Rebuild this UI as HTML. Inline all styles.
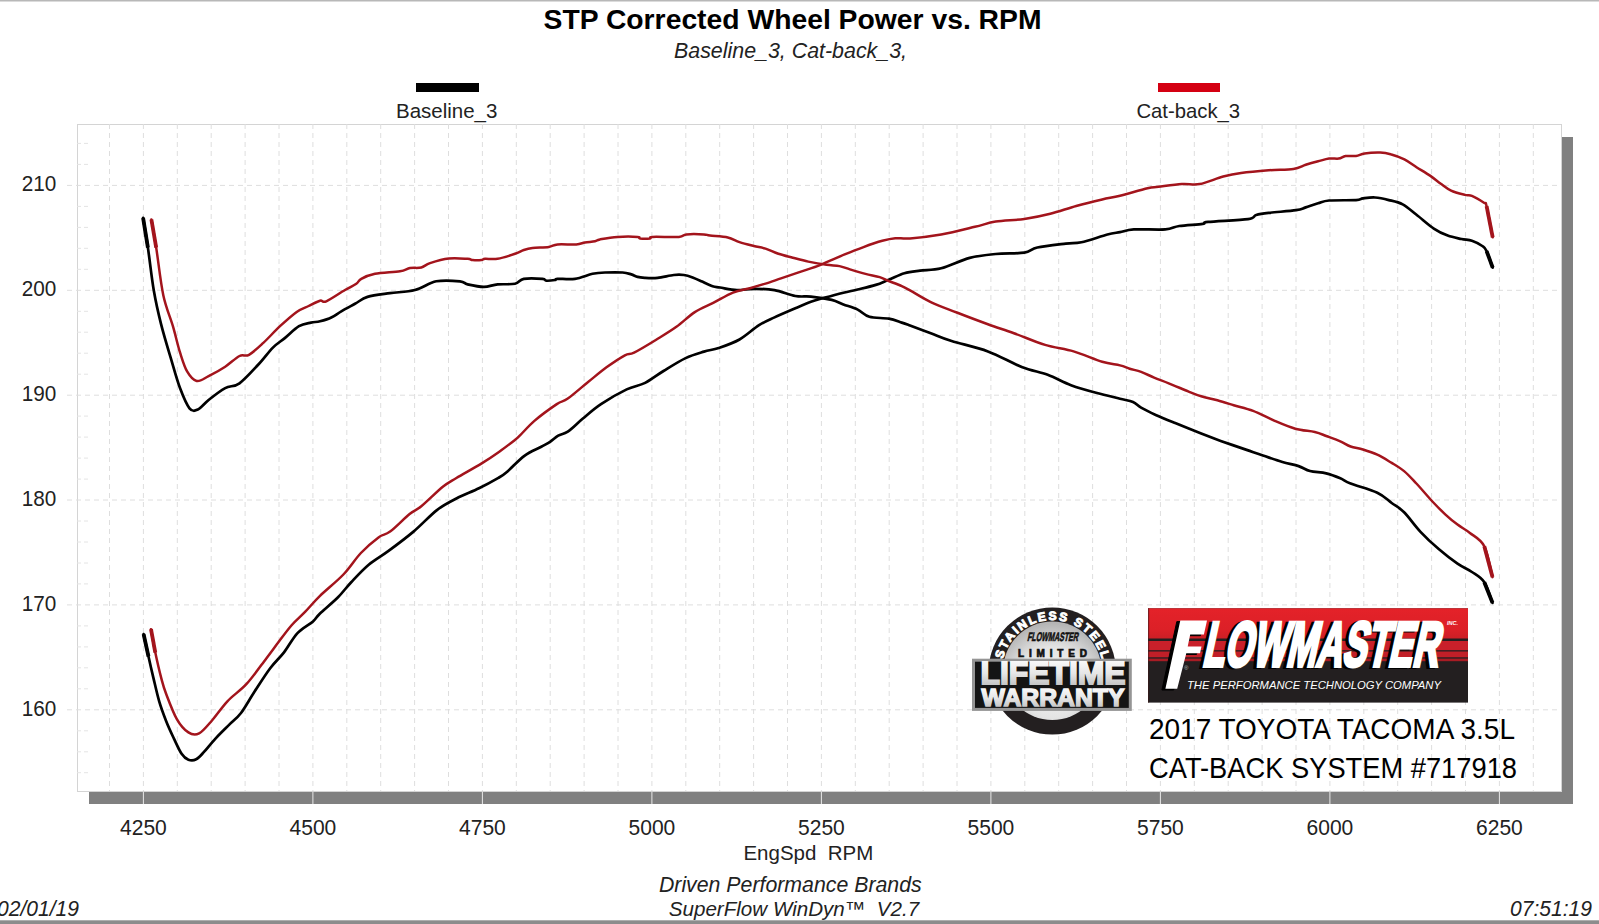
<!DOCTYPE html>
<html><head><meta charset="utf-8"><style>
html,body{margin:0;padding:0;background:#fff;}
body{width:1599px;height:924px;overflow:hidden;position:relative;font-family:"Liberation Sans",sans-serif;}
svg{position:absolute;left:0;top:0;}
</style></head><body>
<svg width="1599" height="924" viewBox="0 0 1599 924" font-family="Liberation Sans, sans-serif">
<defs>
<linearGradient id="fmred" x1="0" y1="0" x2="0" y2="1">
<stop offset="0" stop-color="#e42229"/><stop offset="0.7" stop-color="#dc2027"/><stop offset="1" stop-color="#cc1f26"/>
</linearGradient>
<radialGradient id="disk" cx="0.5" cy="0.62" r="0.6">
<stop offset="0" stop-color="#f6f6f6"/><stop offset="0.6" stop-color="#e4e4e4"/><stop offset="1" stop-color="#b5b5b5"/>
</radialGradient>
<linearGradient id="metal" x1="0" y1="0" x2="0" y2="1">
<stop offset="0" stop-color="#ffffff"/><stop offset="0.5" stop-color="#e6e6e6"/><stop offset="1" stop-color="#b5b5b5"/>
</linearGradient>
<path id="arc" d="M 1001.6 670.7 A 50.7 50.7 0 0 1 1103 670.7"/>
</defs>
<rect x="0" y="0" width="1599" height="1.5" fill="#b8b8b8"/>
<rect x="0" y="920.3" width="1599" height="3.7" fill="#8c8c8c"/>
<!-- shadow -->
<rect x="89" y="792" width="1484" height="12" fill="#808080"/>
<rect x="1562" y="137" width="11" height="667" fill="#808080"/>
<g stroke="#e8e8e8" stroke-width="1"><line x1="143.4" y1="792" x2="143.4" y2="804"/>
<line x1="312.9" y1="792" x2="312.9" y2="804"/>
<line x1="482.4" y1="792" x2="482.4" y2="804"/>
<line x1="651.9" y1="792" x2="651.9" y2="804"/>
<line x1="821.4" y1="792" x2="821.4" y2="804"/>
<line x1="990.9" y1="792" x2="990.9" y2="804"/>
<line x1="1160.4" y1="792" x2="1160.4" y2="804"/>
<line x1="1329.9" y1="792" x2="1329.9" y2="804"/>
<line x1="1499.4" y1="792" x2="1499.4" y2="804"/></g>
<!-- plot -->
<rect x="77.5" y="124.5" width="1484" height="667" fill="#fff" stroke="#d4d4d4" stroke-width="1"/>
<g stroke="#dedede" stroke-width="1" stroke-dasharray="5,4">
<line x1="109.5" y1="124" x2="109.5" y2="791"/>
<line x1="143.4" y1="124" x2="143.4" y2="791"/>
<line x1="177.3" y1="124" x2="177.3" y2="791"/>
<line x1="211.2" y1="124" x2="211.2" y2="791"/>
<line x1="245.1" y1="124" x2="245.1" y2="791"/>
<line x1="279.0" y1="124" x2="279.0" y2="791"/>
<line x1="312.9" y1="124" x2="312.9" y2="791"/>
<line x1="346.8" y1="124" x2="346.8" y2="791"/>
<line x1="380.7" y1="124" x2="380.7" y2="791"/>
<line x1="414.6" y1="124" x2="414.6" y2="791"/>
<line x1="448.5" y1="124" x2="448.5" y2="791"/>
<line x1="482.4" y1="124" x2="482.4" y2="791"/>
<line x1="516.3" y1="124" x2="516.3" y2="791"/>
<line x1="550.2" y1="124" x2="550.2" y2="791"/>
<line x1="584.1" y1="124" x2="584.1" y2="791"/>
<line x1="618.0" y1="124" x2="618.0" y2="791"/>
<line x1="651.9" y1="124" x2="651.9" y2="791"/>
<line x1="685.8" y1="124" x2="685.8" y2="791"/>
<line x1="719.7" y1="124" x2="719.7" y2="791"/>
<line x1="753.6" y1="124" x2="753.6" y2="791"/>
<line x1="787.5" y1="124" x2="787.5" y2="791"/>
<line x1="821.4" y1="124" x2="821.4" y2="791"/>
<line x1="855.3" y1="124" x2="855.3" y2="791"/>
<line x1="889.2" y1="124" x2="889.2" y2="791"/>
<line x1="923.1" y1="124" x2="923.1" y2="791"/>
<line x1="957.0" y1="124" x2="957.0" y2="791"/>
<line x1="990.9" y1="124" x2="990.9" y2="791"/>
<line x1="1024.8" y1="124" x2="1024.8" y2="791"/>
<line x1="1058.7" y1="124" x2="1058.7" y2="791"/>
<line x1="1092.6" y1="124" x2="1092.6" y2="791"/>
<line x1="1126.5" y1="124" x2="1126.5" y2="791"/>
<line x1="1160.4" y1="124" x2="1160.4" y2="791"/>
<line x1="1194.3" y1="124" x2="1194.3" y2="791"/>
<line x1="1228.2" y1="124" x2="1228.2" y2="791"/>
<line x1="1262.1" y1="124" x2="1262.1" y2="791"/>
<line x1="1296.0" y1="124" x2="1296.0" y2="791"/>
<line x1="1329.9" y1="124" x2="1329.9" y2="791"/>
<line x1="1363.8" y1="124" x2="1363.8" y2="791"/>
<line x1="1397.7" y1="124" x2="1397.7" y2="791"/>
<line x1="1431.6" y1="124" x2="1431.6" y2="791"/>
<line x1="1465.5" y1="124" x2="1465.5" y2="791"/>
<line x1="1499.4" y1="124" x2="1499.4" y2="791"/>
<line x1="1533.3" y1="124" x2="1533.3" y2="791"/>
<line x1="67" y1="185.4" x2="1561" y2="185.4"/>
<line x1="67" y1="290.3" x2="1561" y2="290.3"/>
<line x1="67" y1="395.2" x2="1561" y2="395.2"/>
<line x1="67" y1="500.0" x2="1561" y2="500.0"/>
<line x1="67" y1="604.9" x2="1561" y2="604.9"/>
<line x1="67" y1="709.8" x2="1561" y2="709.8"/>
</g>
<g stroke="#e4e4e4" stroke-width="1" stroke-dasharray="4,3"><line x1="77" y1="772.7" x2="90" y2="772.7"/>
<line x1="77" y1="751.8" x2="90" y2="751.8"/>
<line x1="77" y1="730.8" x2="90" y2="730.8"/>
<line x1="77" y1="688.8" x2="90" y2="688.8"/>
<line x1="77" y1="667.8" x2="90" y2="667.8"/>
<line x1="77" y1="646.9" x2="90" y2="646.9"/>
<line x1="77" y1="625.9" x2="90" y2="625.9"/>
<line x1="77" y1="583.9" x2="90" y2="583.9"/>
<line x1="77" y1="563.0" x2="90" y2="563.0"/>
<line x1="77" y1="542.0" x2="90" y2="542.0"/>
<line x1="77" y1="521.0" x2="90" y2="521.0"/>
<line x1="77" y1="479.1" x2="90" y2="479.1"/>
<line x1="77" y1="458.1" x2="90" y2="458.1"/>
<line x1="77" y1="437.1" x2="90" y2="437.1"/>
<line x1="77" y1="416.1" x2="90" y2="416.1"/>
<line x1="77" y1="374.2" x2="90" y2="374.2"/>
<line x1="77" y1="353.2" x2="90" y2="353.2"/>
<line x1="77" y1="332.2" x2="90" y2="332.2"/>
<line x1="77" y1="311.3" x2="90" y2="311.3"/>
<line x1="77" y1="269.3" x2="90" y2="269.3"/>
<line x1="77" y1="248.3" x2="90" y2="248.3"/>
<line x1="77" y1="227.4" x2="90" y2="227.4"/>
<line x1="77" y1="206.4" x2="90" y2="206.4"/>
<line x1="77" y1="164.4" x2="90" y2="164.4"/>
<line x1="77" y1="143.4" x2="90" y2="143.4"/></g>
<!-- title -->
<text x="792.5" y="29" text-anchor="middle" font-size="28" font-weight="bold" fill="#000" textLength="498" lengthAdjust="spacingAndGlyphs">STP Corrected Wheel Power vs. RPM</text>
<text x="790.5" y="58" text-anchor="middle" font-size="21.4" font-style="italic" fill="#222">Baseline_3, Cat-back_3,</text>
<rect x="416" y="83" width="63" height="9" fill="#000"/>
<rect x="1158" y="83" width="62" height="9" fill="#d40012"/>
<text x="446.7" y="118.2" text-anchor="middle" font-size="20.5" fill="#222">Baseline_3</text>
<text x="1188.3" y="118.2" text-anchor="middle" font-size="20.3" fill="#222">Cat-back_3</text>
<g font-size="21.6" fill="#222">
<text x="56.3" y="191.3" text-anchor="end" textLength="34.6" lengthAdjust="spacingAndGlyphs">210</text>
<text x="56.3" y="296.2" text-anchor="end" textLength="34.6" lengthAdjust="spacingAndGlyphs">200</text>
<text x="56.3" y="401.1" text-anchor="end" textLength="34.6" lengthAdjust="spacingAndGlyphs">190</text>
<text x="56.3" y="505.9" text-anchor="end" textLength="34.6" lengthAdjust="spacingAndGlyphs">180</text>
<text x="56.3" y="610.8" text-anchor="end" textLength="34.6" lengthAdjust="spacingAndGlyphs">170</text>
<text x="56.3" y="715.7" text-anchor="end" textLength="34.6" lengthAdjust="spacingAndGlyphs">160</text>
<text x="143.4" y="834.6" text-anchor="middle" textLength="46.8" lengthAdjust="spacingAndGlyphs">4250</text>
<text x="312.9" y="834.6" text-anchor="middle" textLength="46.8" lengthAdjust="spacingAndGlyphs">4500</text>
<text x="482.4" y="834.6" text-anchor="middle" textLength="46.8" lengthAdjust="spacingAndGlyphs">4750</text>
<text x="651.9" y="834.6" text-anchor="middle" textLength="46.8" lengthAdjust="spacingAndGlyphs">5000</text>
<text x="821.4" y="834.6" text-anchor="middle" textLength="46.8" lengthAdjust="spacingAndGlyphs">5250</text>
<text x="990.9" y="834.6" text-anchor="middle" textLength="46.8" lengthAdjust="spacingAndGlyphs">5500</text>
<text x="1160.4" y="834.6" text-anchor="middle" textLength="46.8" lengthAdjust="spacingAndGlyphs">5750</text>
<text x="1329.9" y="834.6" text-anchor="middle" textLength="46.8" lengthAdjust="spacingAndGlyphs">6000</text>
<text x="1499.4" y="834.6" text-anchor="middle" textLength="46.8" lengthAdjust="spacingAndGlyphs">6250</text>
</g>
<text x="808.4" y="859.5" text-anchor="middle" font-size="20.5" fill="#222" xml:space="preserve">EngSpd  RPM</text>
<text x="790.3" y="891.8" text-anchor="middle" font-size="21.3" font-style="italic" fill="#222">Driven Performance Brands</text>
<text x="794" y="916" text-anchor="middle" font-size="20.6" font-style="italic" fill="#222" xml:space="preserve">SuperFlow WinDyn™  V2.7</text>
<text x="-3" y="915.7" font-size="21.5" font-style="italic" fill="#222" textLength="82" lengthAdjust="spacingAndGlyphs">02/01/19</text>
<text x="1592" y="916.3" text-anchor="end" font-size="21.5" font-style="italic" fill="#222" textLength="82" lengthAdjust="spacingAndGlyphs">07:51:19</text>
<!-- curves -->
<g fill="none" stroke-linejoin="round" stroke-linecap="round">
<path d="M143.1,217.9 C143.9,222.8 146.1,235.5 147.9,247.6 C149.7,259.7 151.6,277.8 153.8,290.5 C156.0,303.2 158.2,312.7 161.0,323.8 C163.8,334.9 167.3,346.4 170.5,357.1 C173.7,367.8 176.8,379.6 180.0,388.1 C183.2,396.6 186.5,404.7 189.5,408.3 C192.5,411.9 194.7,410.9 197.9,409.5 C201.1,408.1 204.1,403.6 208.6,400.0 C213.1,396.4 220.0,390.9 225.2,388.1 C230.3,385.3 233.9,387.3 239.5,383.3 C245.1,379.3 253.0,370.2 258.6,364.3 C264.2,358.4 268.5,352.0 272.9,347.6 C277.3,343.2 280.4,341.7 284.8,338.1 C289.2,334.5 294.6,328.8 299.0,326.2 C303.4,323.6 307.5,323.4 311.0,322.6 C314.5,321.8 316.6,322.2 320.0,321.3 C323.4,320.4 327.8,319.2 331.3,317.5 C334.9,315.8 337.4,313.6 341.3,311.3 C345.2,309.0 350.6,306.2 355.0,303.8 C359.4,301.4 361.7,298.7 367.5,296.9 C373.3,295.1 382.1,294.3 390.0,293.2 C397.9,292.1 407.3,292.0 415.0,290.0 C422.7,288.0 428.8,282.8 436.3,281.3 C443.8,279.9 454.8,280.8 460.0,281.3 C465.2,281.8 463.6,283.5 467.6,284.4 C471.6,285.3 478.9,286.9 483.9,286.9 C488.9,286.9 492.4,284.9 497.6,284.4 C502.8,283.9 510.6,284.7 515.0,283.8 C519.4,282.9 519.2,279.6 523.8,278.8 C528.4,278.0 538.8,278.5 542.5,278.8 C546.2,279.1 544.2,280.5 546.3,280.7 C548.4,280.9 553.1,280.3 555.0,280.0 C556.9,279.7 554.2,279.0 557.5,278.8 C560.8,278.6 569.2,279.6 575.0,278.8 C580.8,278.0 587.5,274.9 592.5,273.8 C597.5,272.8 600.0,272.7 605.0,272.5 C610.0,272.3 618.2,272.2 622.6,272.5 C627.0,272.8 628.8,273.7 631.3,274.4 C633.8,275.1 635.3,276.3 637.6,276.9 C639.9,277.5 641.7,277.6 645.0,277.8 C648.3,278.0 652.8,278.3 657.6,277.8 C662.4,277.3 669.4,275.5 673.8,275.0 C678.2,274.5 680.8,274.6 683.9,275.0 C687.0,275.4 689.7,276.4 692.6,277.5 C695.5,278.6 698.1,279.8 701.4,281.3 C704.7,282.8 709.5,285.3 712.6,286.3 C715.7,287.3 716.0,286.9 720.0,287.5 C724.0,288.1 731.3,289.9 736.9,290.1 C742.5,290.3 747.5,288.8 753.8,288.8 C760.1,288.8 767.6,288.9 774.5,290.1 C781.4,291.3 789.2,294.9 795.3,296.0 C801.4,297.1 804.8,296.0 810.9,296.6 C817.0,297.2 826.3,298.6 831.7,299.9 C837.1,301.2 839.1,302.8 843.4,304.4 C847.7,306.0 853.4,307.5 857.7,309.6 C862.0,311.7 864.2,315.3 869.4,316.8 C874.6,318.3 883.4,317.7 888.8,318.7 C894.2,319.7 898.3,321.5 901.8,322.6 C905.3,323.7 905.2,323.7 910.0,325.5 C914.8,327.3 923.9,330.6 930.8,333.2 C937.7,335.8 942.1,338.0 951.6,341.0 C961.1,344.0 976.2,347.1 987.9,351.4 C999.6,355.7 1011.7,363.1 1021.7,367.0 C1031.7,370.9 1039.5,371.8 1047.7,374.8 C1055.9,377.8 1062.8,382.2 1071.0,385.2 C1079.2,388.2 1088.8,390.8 1097.0,393.0 C1105.2,395.2 1114.0,397.2 1120.0,398.7 C1126.0,400.2 1129.5,400.5 1133.0,402.0 C1136.5,403.5 1137.3,405.5 1141.1,407.6 C1144.9,409.8 1150.0,412.3 1155.7,414.9 C1161.4,417.5 1167.6,420.0 1175.2,423.1 C1182.8,426.2 1193.6,430.6 1201.2,433.6 C1208.8,436.6 1213.1,438.2 1220.7,440.9 C1228.3,443.6 1239.6,447.5 1246.6,449.9 C1253.6,452.3 1256.9,453.5 1262.9,455.5 C1268.9,457.5 1276.5,460.2 1282.4,462.0 C1288.4,463.8 1294.0,464.6 1298.6,466.1 C1303.2,467.6 1305.4,469.8 1310.0,471.0 C1314.6,472.2 1321.2,472.2 1326.2,473.4 C1331.2,474.6 1336.2,476.6 1340.3,478.3 C1344.4,480.0 1344.4,481.1 1350.6,483.5 C1356.8,485.9 1370.4,489.4 1377.3,492.7 C1384.2,495.9 1387.2,499.7 1391.7,503.0 C1396.2,506.3 1399.3,507.5 1404.1,512.3 C1408.9,517.1 1414.7,525.6 1420.5,531.8 C1426.3,538.0 1432.8,544.0 1439.0,549.3 C1445.2,554.6 1452.0,559.9 1457.5,563.7 C1463.0,567.5 1467.4,568.9 1471.9,572.0 C1476.4,575.1 1480.9,577.1 1484.3,582.2 C1487.7,587.3 1491.1,599.4 1492.5,602.8" stroke="#000" stroke-width="2.7"/>
<path d="M143.6,634.1 C144.4,637.8 146.9,649.2 148.5,656.5 C150.1,663.8 151.6,670.4 153.4,677.9 C155.2,685.4 157.1,694.2 159.2,701.3 C161.3,708.4 163.6,714.5 166.0,720.7 C168.4,726.9 171.2,732.8 173.8,738.3 C176.4,743.8 179.2,750.2 181.6,753.8 C184.0,757.4 186.0,758.8 188.4,759.7 C190.8,760.6 193.6,760.6 196.2,759.3 C198.8,758.0 200.8,755.4 204.0,751.9 C207.2,748.4 211.5,742.8 215.7,738.3 C219.9,733.8 225.1,728.8 229.3,724.6 C233.5,720.4 236.8,718.5 241.0,713.0 C245.2,707.5 249.7,699.0 254.6,691.5 C259.5,684.0 265.3,674.7 270.2,668.2 C275.1,661.7 279.2,658.5 283.8,652.6 C288.4,646.8 292.6,638.3 297.5,633.1 C302.4,627.9 309.2,624.7 313.0,621.4 C316.8,618.1 315.9,617.3 320.0,613.4 C324.1,609.5 332.3,603.0 337.5,597.8 C342.7,592.6 346.0,587.7 351.2,582.2 C356.4,576.7 362.5,569.9 368.7,564.7 C374.9,559.5 380.7,556.6 388.2,551.1 C395.7,545.6 405.4,538.4 413.5,531.6 C421.6,524.8 429.8,515.6 436.9,510.1 C444.0,504.6 449.4,502.1 456.4,498.5 C463.4,494.9 472.0,491.7 479.0,488.3 C486.0,484.9 493.6,480.7 498.4,477.9 C503.1,475.1 503.2,475.1 507.5,471.4 C511.8,467.7 518.8,459.9 524.4,455.8 C530.0,451.7 537.0,449.2 541.3,446.8 C545.6,444.4 547.6,443.5 550.4,441.6 C553.2,439.8 555.3,437.4 558.2,435.7 C561.1,434.0 563.7,434.5 567.8,431.7 C571.9,428.9 577.1,423.4 582.6,418.8 C588.1,414.2 593.6,409.0 601.0,404.1 C608.4,399.2 619.4,392.9 626.7,389.4 C634.1,385.9 639.0,386.0 645.1,382.9 C651.2,379.8 656.8,375.1 663.5,371.0 C670.2,366.9 678.9,361.3 685.6,358.1 C692.4,354.9 698.5,353.3 704.0,351.6 C709.5,349.9 712.8,350.0 718.7,348.0 C724.6,346.0 732.8,343.3 739.5,339.5 C746.2,335.7 753.2,328.9 759.0,325.2 C764.8,321.5 768.5,320.2 774.5,317.4 C780.5,314.6 789.2,310.9 795.3,308.3 C801.4,305.7 806.1,303.5 810.9,301.8 C815.7,300.1 818.5,299.4 823.9,297.9 C829.3,296.4 837.8,294.1 843.4,292.7 C849.0,291.3 852.3,290.8 857.7,289.5 C863.1,288.2 870.6,286.5 875.8,284.9 C881.0,283.3 884.0,281.6 888.8,279.7 C893.6,277.8 899.2,274.7 904.4,273.2 C909.6,271.7 913.9,271.4 920.0,270.6 C926.1,269.8 932.9,270.4 941.2,268.3 C949.5,266.2 960.6,260.3 969.7,257.9 C978.8,255.5 986.6,254.9 995.7,254.0 C1004.8,253.1 1017.4,253.8 1024.3,252.7 C1031.2,251.6 1030.4,249.0 1037.3,247.5 C1044.2,246.0 1058.4,244.5 1065.8,243.6 C1073.2,242.7 1074.5,243.8 1081.4,242.3 C1088.3,240.8 1101.0,236.2 1107.4,234.5 C1113.8,232.8 1115.6,233.0 1120.0,232.2 C1124.4,231.3 1126.2,229.9 1133.8,229.4 C1141.4,228.9 1157.8,230.0 1165.4,229.4 C1173.0,228.8 1173.0,226.9 1179.2,226.0 C1185.4,225.1 1197.8,224.6 1202.6,223.9 C1207.4,223.2 1200.5,222.7 1208.1,221.9 C1215.7,221.1 1240.0,220.2 1248.0,219.1 C1256.0,217.9 1252.8,216.0 1256.2,215.0 C1259.6,214.0 1261.9,213.7 1268.6,212.9 C1275.2,212.1 1289.9,211.1 1296.1,210.2 C1302.3,209.3 1302.0,208.6 1305.7,207.4 C1309.4,206.2 1314.2,204.5 1318.1,203.3 C1322.0,202.2 1322.8,201.0 1329.1,200.5 C1335.4,200.0 1350.4,200.4 1356.0,200.1 C1361.6,199.8 1359.7,198.8 1362.9,198.4 C1366.1,198.0 1370.7,197.2 1375.0,197.5 C1379.3,197.8 1384.2,198.9 1388.8,200.1 C1393.4,201.2 1398.1,201.9 1402.7,204.4 C1407.3,206.9 1411.3,210.8 1416.5,214.8 C1421.7,218.8 1428.6,225.1 1433.8,228.6 C1439.0,232.1 1443.1,233.9 1447.7,235.6 C1452.3,237.3 1457.5,238.1 1461.5,239.0 C1465.5,239.9 1468.4,239.6 1471.9,240.8 C1475.4,242.0 1479.8,244.3 1482.3,246.0 C1484.8,247.7 1484.9,247.5 1486.6,251.1 C1488.3,254.7 1491.7,264.9 1492.7,267.6" stroke="#000" stroke-width="2.7"/>
<path d="M151.4,219.5 C152.2,224.2 154.2,235.0 156.2,247.6 C158.2,260.2 160.5,282.1 163.3,295.2 C166.1,308.3 170.1,316.7 172.9,326.2 C175.7,335.7 177.6,344.9 180.0,352.4 C182.4,359.9 184.3,366.6 187.1,371.4 C189.9,376.2 193.1,380.2 196.7,381.0 C200.3,381.8 203.8,378.6 208.6,376.2 C213.3,373.8 220.0,370.1 225.2,366.7 C230.3,363.3 235.5,358.0 239.5,356.0 C243.5,354.0 245.0,357.0 249.0,354.8 C253.0,352.6 258.1,347.7 263.3,342.9 C268.5,338.1 274.4,331.4 280.0,326.2 C285.6,321.0 291.9,315.3 296.7,311.9 C301.5,308.5 304.7,307.9 308.6,306.0 C312.5,304.1 317.1,301.5 320.0,300.7 C322.9,299.9 322.1,303.1 326.3,301.3 C330.5,299.5 340.0,292.9 345.0,290.0 C350.0,287.1 353.6,285.7 356.3,283.8 C359.0,281.9 358.2,280.5 361.3,278.8 C364.4,277.1 368.6,275.1 375.0,273.8 C381.4,272.6 394.2,272.2 400.0,271.3 C405.8,270.4 406.4,268.7 410.0,268.1 C413.6,267.5 418.0,268.3 421.3,267.5 C424.6,266.7 425.4,264.6 430.0,263.1 C434.6,261.6 442.5,259.2 448.8,258.5 C455.1,257.8 463.6,258.6 467.6,258.8 C471.6,259.1 470.3,259.8 472.6,260.0 C474.9,260.2 479.2,260.2 481.3,260.0 C483.4,259.8 482.4,259.0 485.1,258.8 C487.8,258.6 492.6,259.6 497.6,258.8 C502.6,258.0 510.6,255.3 515.0,253.8 C519.4,252.3 520.9,250.9 523.8,250.0 C526.7,249.1 528.3,248.6 532.5,248.1 C536.7,247.6 544.6,247.5 548.8,246.9 C553.0,246.3 552.9,244.8 557.5,244.4 C562.1,244.0 571.7,244.7 576.3,244.4 C580.9,244.1 581.9,243.0 585.0,242.5 C588.1,242.0 592.5,241.8 595.0,241.3 C597.5,240.8 596.2,240.1 600.0,239.4 C603.8,238.7 611.3,237.3 617.6,236.9 C623.9,236.5 633.9,236.6 637.6,236.9 C641.3,237.2 637.9,238.2 640.0,238.5 C642.1,238.8 647.9,238.8 650.0,238.5 C652.1,238.2 647.8,237.2 652.6,236.9 C657.4,236.6 673.3,237.3 678.9,236.9 C684.5,236.5 682.2,234.8 686.4,234.4 C690.6,234.0 700.0,234.2 703.9,234.4 C707.8,234.6 706.0,235.1 710.0,235.6 C714.0,236.1 722.9,236.4 727.8,237.5 C732.7,238.6 735.2,240.7 739.5,242.1 C743.8,243.5 749.5,244.9 753.8,246.0 C758.1,247.1 761.4,247.3 765.5,248.6 C769.6,249.9 773.9,252.3 778.4,253.8 C782.9,255.3 787.7,256.4 792.7,257.7 C797.7,259.0 802.7,260.4 808.3,261.6 C813.9,262.8 821.3,264.1 826.5,264.8 C831.7,265.6 835.6,265.3 839.5,266.1 C843.4,266.9 845.6,268.1 849.9,269.4 C854.2,270.7 860.5,272.6 865.5,273.9 C870.5,275.2 875.8,275.9 879.7,277.1 C883.6,278.3 885.1,279.5 888.8,281.0 C892.5,282.5 898.3,284.6 901.8,286.2 C905.3,287.8 905.2,287.8 910.0,290.4 C914.8,293.0 923.0,298.4 930.8,302.1 C938.6,305.8 947.3,308.8 956.8,312.5 C966.3,316.2 978.4,320.8 987.9,324.2 C997.4,327.6 1004.4,329.8 1013.9,333.2 C1023.4,336.6 1035.1,341.9 1045.1,344.9 C1055.0,347.9 1064.1,348.6 1073.6,351.4 C1083.1,354.2 1094.5,359.5 1102.2,361.8 C1109.9,364.1 1115.4,364.2 1120.0,365.4 C1124.6,366.5 1126.2,367.6 1129.7,368.7 C1133.2,369.8 1137.0,370.4 1141.1,371.9 C1145.2,373.4 1149.5,375.7 1154.1,377.6 C1158.7,379.5 1163.0,381.0 1168.7,383.3 C1174.4,385.6 1182.8,389.2 1188.2,391.4 C1193.6,393.6 1196.3,394.8 1201.2,396.3 C1206.1,397.8 1212.0,398.8 1217.4,400.3 C1222.8,401.8 1227.8,403.4 1233.7,405.2 C1239.7,407.0 1246.3,408.3 1253.1,410.9 C1259.8,413.5 1267.2,417.6 1274.2,420.6 C1281.2,423.6 1288.5,426.8 1295.3,428.7 C1302.1,430.6 1309.6,430.8 1314.8,432.0 C1320.0,433.2 1322.0,434.4 1326.2,436.0 C1330.5,437.6 1336.2,439.6 1340.3,441.3 C1344.4,443.1 1346.8,445.1 1350.6,446.5 C1354.4,447.9 1358.5,448.1 1362.9,449.5 C1367.4,450.9 1372.5,452.5 1377.3,454.7 C1382.1,456.9 1387.2,460.2 1391.7,462.9 C1396.2,465.6 1400.0,467.7 1404.1,471.1 C1408.2,474.5 1411.6,478.4 1416.4,483.5 C1421.2,488.6 1428.1,496.9 1432.9,502.0 C1437.7,507.1 1441.1,510.5 1445.2,514.3 C1449.3,518.1 1453.4,521.5 1457.5,524.6 C1461.6,527.7 1465.4,529.3 1469.9,532.9 C1474.4,536.5 1480.5,538.8 1484.3,546.2 C1488.1,553.6 1491.1,572.0 1492.5,577.1" stroke="#a3141c" stroke-width="2.5"/>
<path d="M151.0,629.2 C151.7,633.1 153.6,644.5 155.3,652.6 C157.0,660.7 159.4,671.1 161.2,677.9 C163.0,684.7 163.4,686.7 166.0,693.5 C168.6,700.3 173.0,712.3 176.7,718.8 C180.4,725.3 184.7,730.0 188.4,732.4 C192.1,734.8 195.2,735.3 199.1,733.4 C203.0,731.5 207.1,726.1 211.8,720.7 C216.5,715.4 221.6,707.5 227.4,701.3 C233.2,695.1 240.3,690.9 246.8,683.7 C253.3,676.6 261.1,665.2 266.3,658.4 C271.5,651.6 273.8,648.3 278.0,642.8 C282.2,637.3 287.1,630.5 291.6,625.3 C296.2,620.1 300.6,616.6 305.3,611.7 C310.0,606.8 313.6,602.1 320.0,595.9 C326.4,589.7 336.6,581.6 343.4,574.5 C350.2,567.4 355.0,559.2 360.9,553.0 C366.8,546.8 373.6,541.0 378.5,537.4 C383.4,533.8 384.9,535.5 390.1,531.6 C395.3,527.7 404.4,518.2 409.6,514.0 C414.8,509.8 415.8,510.8 421.3,506.3 C426.8,501.8 437.0,491.5 442.8,486.8 C448.6,482.1 449.9,481.9 456.4,478.0 C462.9,474.1 474.5,467.8 481.7,463.4 C488.9,459.0 493.8,455.6 499.3,451.7 C504.8,447.8 511.4,442.7 514.9,440.0 C518.4,437.3 516.7,438.6 520.0,435.4 C523.3,432.2 528.6,425.8 534.7,420.6 C540.8,415.4 551.3,407.8 556.8,404.1 C562.3,400.4 562.6,402.3 567.8,398.6 C573.0,394.9 581.6,387.2 588.1,382.0 C594.6,376.8 600.4,371.8 606.5,367.3 C612.6,362.9 620.3,357.8 624.9,355.3 C629.5,352.9 628.9,355.2 634.1,352.6 C639.3,350.0 649.2,344.0 656.2,339.7 C663.2,335.4 670.0,331.4 676.4,326.8 C682.8,322.2 688.7,316.1 694.8,312.1 C700.9,308.1 706.8,306.1 713.2,302.9 C719.6,299.7 726.9,295.1 733.0,292.7 C739.1,290.2 744.5,289.7 749.9,288.2 C755.3,286.7 760.3,285.2 765.5,283.6 C770.7,282.0 775.6,280.2 781.0,278.4 C786.4,276.6 791.8,274.7 797.9,272.6 C804.0,270.6 812.4,267.9 817.4,266.1 C822.4,264.3 823.2,263.6 827.8,261.6 C832.3,259.7 838.9,256.8 844.7,254.4 C850.6,252.0 856.6,249.6 862.9,247.3 C869.2,245.0 876.9,242.3 882.3,240.8 C887.7,239.3 890.7,238.6 895.3,238.2 C899.9,237.8 902.4,239.0 910.0,238.4 C917.6,237.8 930.4,236.4 941.2,234.5 C952.0,232.6 965.8,229.0 974.9,226.8 C984.0,224.7 987.5,222.9 995.7,221.6 C1003.9,220.3 1015.2,220.3 1024.3,219.0 C1033.4,217.7 1041.6,216.0 1050.3,213.8 C1059.0,211.6 1067.5,208.4 1076.2,206.0 C1084.9,203.6 1094.9,201.2 1102.2,199.5 C1109.5,197.8 1112.5,197.6 1120.0,195.7 C1127.5,193.8 1141.1,189.7 1147.5,188.2 C1153.9,186.7 1152.8,187.5 1158.5,186.8 C1164.2,186.1 1175.0,184.5 1181.9,184.0 C1188.8,183.5 1192.9,185.2 1199.8,184.0 C1206.7,182.8 1216.3,178.3 1223.2,176.5 C1230.1,174.7 1233.5,174.0 1241.1,173.0 C1248.7,172.0 1259.9,171.0 1268.6,170.3 C1277.3,169.6 1287.2,169.8 1293.4,168.9 C1299.6,168.0 1301.6,166.1 1305.7,164.8 C1309.8,163.5 1314.2,162.3 1318.1,161.3 C1322.0,160.3 1325.7,159.1 1329.1,158.6 C1332.5,158.1 1336.0,159.0 1338.7,158.6 C1341.5,158.2 1342.7,156.4 1345.6,156.0 C1348.5,155.6 1352.8,156.4 1356.0,156.0 C1359.2,155.6 1360.6,154.0 1364.6,153.4 C1368.6,152.8 1375.9,152.4 1380.2,152.5 C1384.5,152.6 1386.6,153.0 1390.6,154.2 C1394.6,155.3 1400.1,157.2 1404.4,159.4 C1408.7,161.6 1412.2,164.4 1416.5,167.2 C1420.8,169.9 1426.4,173.2 1430.4,175.9 C1434.5,178.7 1437.3,181.2 1440.8,183.7 C1444.2,186.1 1447.1,188.7 1451.1,190.6 C1455.1,192.5 1461.5,194.0 1465.0,194.9 C1468.5,195.8 1468.7,194.5 1471.9,195.8 C1475.1,197.1 1481.5,201.0 1484.0,202.7 C1486.5,204.4 1485.1,200.4 1486.6,206.2 C1488.0,212.0 1491.7,232.1 1492.7,237.3" stroke="#a3141c" stroke-width="2.5"/>
<g stroke-width="3.8" stroke-linecap="butt">
<polyline points="143.1,217.9 147.9,247.6" stroke="#000"/>
<polyline points="143.6,634.1 148.5,656.5" stroke="#000"/>
<polyline points="1486.6,251.1 1492.7,267.6" stroke="#000"/>
<polyline points="1484.3,582.2 1492.5,602.8" stroke="#000"/>
<polyline points="151.4,219.5 156.2,247.6" stroke="#a3141c"/>
<polyline points="151,629.2 155.3,652.6" stroke="#a3141c"/>
<polyline points="1486.6,206.2 1492.7,237.3" stroke="#a3141c"/>
<polyline points="1484.3,546.2 1492.5,577.1" stroke="#a3141c"/>
</g>
</g>
<!-- flowmaster logo -->
<g>
<rect x="1148" y="608.3" width="320" height="94.3" fill="#231f20"/>
<rect x="1148" y="608.3" width="320" height="30.2" fill="url(#fmred)"/>
<rect x="1148" y="641" width="320" height="9.2" fill="#c9202a"/>
<rect x="1148" y="651.5" width="320" height="5.8" fill="#c11f28"/>
<rect x="1148" y="658.6" width="320" height="2.6" fill="#a81c24"/>
<rect x="1148" y="608.3" width="1.2" height="94.3" fill="#3a1a1a" opacity="0.6"/>
<g transform="translate(-3.5 1.2)" fill="#000" stroke="#000">
<path d="M1180.3,620.4 L1207,620.4 L1203.9,634.5 L1190.2,634.5 L1187.7,646.5 L1201.5,646.5 L1200,653.3 L1186.3,653.3 L1177.2,688.8 L1165.4,688.8 Z"/>
<g transform="translate(1201 667.5) skewX(-12.3)"><text x="0" y="-1.8" font-size="63" font-weight="bold" stroke-width="3.8" stroke-linejoin="miter" textLength="236" lengthAdjust="spacingAndGlyphs">LOWMASTER</text></g>
</g>
<g fill="#fff" stroke="#fff" stroke-width="0">
<path d="M1180.3,620.4 L1207,620.4 L1203.9,634.5 L1190.2,634.5 L1187.7,646.5 L1201.5,646.5 L1200,653.3 L1186.3,653.3 L1177.2,688.8 L1165.4,688.8 Z"/>
<g transform="translate(1201 667.5) skewX(-12.3)"><text x="0" y="-1.8" font-size="63" font-weight="bold" stroke-width="3.8" stroke-linejoin="miter" textLength="236" lengthAdjust="spacingAndGlyphs">LOWMASTER</text></g>
<text x="1187" y="688.7" font-size="10.8" font-style="italic" textLength="254" lengthAdjust="spacingAndGlyphs">THE PERFORMANCE TECHNOLOGY COMPANY</text>
<text x="1447" y="625" font-size="5.5" font-weight="bold" font-style="italic">INC.</text>
<text x="1184" y="670" font-size="6" fill="#bbb">®</text>
</g>
</g>
<!-- badge -->
<g>
<circle cx="1052.3" cy="671" r="63.6" fill="#231f20"/>
<circle cx="1052.3" cy="670.7" r="49.2" fill="url(#disk)"/>
<text font-size="12.2" font-weight="bold" fill="#fff" stroke="#fff" stroke-width="0.9"><textPath href="#arc" startOffset="50%" text-anchor="middle" textLength="136" lengthAdjust="spacing">STAINLESS STEEL</textPath></text>
<g transform="translate(1027 640.7) skewX(-12)"><text x="0" y="0" font-size="12.3" font-weight="bold" fill="#111" stroke="#111" stroke-width="0.6" textLength="51" lengthAdjust="spacingAndGlyphs">FLOWMASTER</text></g>
<text x="1018" y="656.5" font-size="10" font-weight="bold" fill="#111" stroke="#111" stroke-width="0.7" textLength="69" lengthAdjust="spacing">LIMITED</text>
<rect x="973.5" y="660.2" width="156.8" height="49.2" fill="#141414" stroke="#959595" stroke-width="3"/>
<text x="980.5" y="684.4" font-size="30.5" font-weight="bold" fill="url(#metal)" stroke="url(#metal)" stroke-width="1.8" textLength="145" lengthAdjust="spacingAndGlyphs">LIFETIME</text>
<text x="981.5" y="706.4" font-size="23" font-weight="bold" fill="url(#metal)" stroke="url(#metal)" stroke-width="1.4" textLength="143" lengthAdjust="spacingAndGlyphs">WARRANTY</text>
</g>
<text x="1149" y="739" font-size="29" fill="#000" textLength="366" lengthAdjust="spacingAndGlyphs">2017 TOYOTA TACOMA 3.5L</text>
<text x="1149" y="777.5" font-size="29" fill="#000" textLength="368" lengthAdjust="spacingAndGlyphs">CAT-BACK SYSTEM #717918</text>
</svg>
</body></html>
